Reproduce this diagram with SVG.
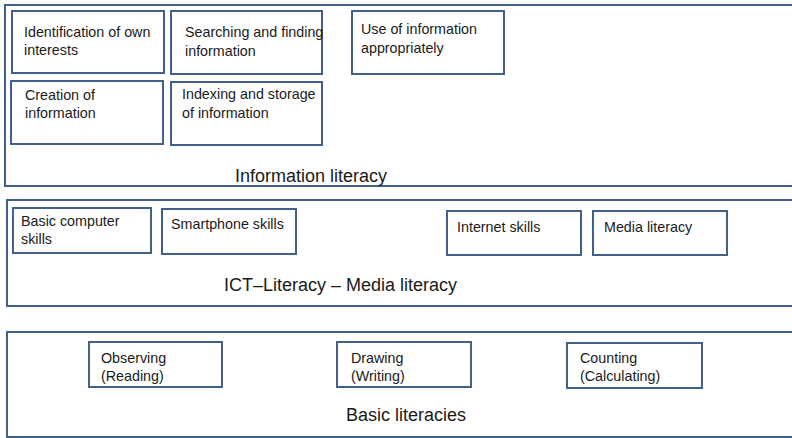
<svg xmlns="http://www.w3.org/2000/svg" width="792" height="438" viewBox="0 0 792 438">
  <style>
    .frame { fill: #ffffff; stroke: #41618a; stroke-width: 2; }
    .box { fill: #ffffff; stroke: #41618a; stroke-width: 2; }
    .label { font-family: "Liberation Sans", Arial, sans-serif; font-size: 14.3px; fill: #1a1a1a; }
    .title { font-family: "Liberation Sans", Arial, sans-serif; font-size: 18px; fill: #1a1a1a; }
  </style>
  <rect width="792" height="438" fill="#ffffff"/>

  <!-- Layer: Information literacy -->
  <g id="layer-information">
    <rect class="frame" x="5" y="5" width="800" height="181"/>
    <text class="title" x="235" y="182">Information literacy</text>
  </g>
  <g id="node-identification">
    <rect class="box" x="12" y="11" width="152" height="62"/>
    <text class="label" x="24" y="37">Identification of own</text>
    <text class="label" x="24" y="55">interests</text>
  </g>
  <g id="node-searching">
    <rect class="box" x="171" y="11" width="151" height="63"/>
    <text class="label" x="185" y="37">Searching and finding</text>
    <text class="label" x="185" y="56">information</text>
  </g>
  <g id="node-use">
    <rect class="box" x="352" y="11" width="152" height="63"/>
    <text class="label" x="361" y="34">Use of information</text>
    <text class="label" x="361" y="53">appropriately</text>
  </g>
  <g id="node-creation">
    <rect class="box" x="11" y="81" width="152" height="63"/>
    <text class="label" x="25" y="100">Creation of</text>
    <text class="label" x="25" y="118">information</text>
  </g>
  <g id="node-indexing">
    <rect class="box" x="171" y="82" width="151" height="63"/>
    <text class="label" x="182" y="99">Indexing and storage</text>
    <text class="label" x="182" y="118">of information</text>
  </g>

  <!-- Layer: ICT literacy -->
  <g id="layer-ict">
    <rect class="frame" x="7" y="200" width="800" height="106"/>
    <text class="title" x="224" y="291">ICT–Literacy – Media literacy</text>
  </g>
  <g id="node-computer">
    <rect class="box" x="13" y="208" width="138" height="45"/>
    <text class="label" x="21" y="226">Basic computer</text>
    <text class="label" x="21" y="244">skills</text>
  </g>
  <g id="node-smartphone">
    <rect class="box" x="162" y="209" width="134" height="45"/>
    <text class="label" x="171" y="229">Smartphone skills</text>
  </g>
  <g id="node-internet">
    <rect class="box" x="447" y="211" width="134" height="44"/>
    <text class="label" x="457" y="232">Internet skills</text>
  </g>
  <g id="node-media">
    <rect class="box" x="593" y="211" width="134" height="44"/>
    <text class="label" x="604" y="232">Media literacy</text>
  </g>

  <!-- Layer: Basic literacies -->
  <g id="layer-basic">
    <rect class="frame" x="7" y="332" width="800" height="105"/>
    <text class="title" x="346" y="421">Basic literacies</text>
  </g>
  <g id="node-observing">
    <rect class="box" x="89" y="342" width="133" height="45"/>
    <text class="label" x="101" y="363">Observing</text>
    <text class="label" x="101" y="381">(Reading)</text>
  </g>
  <g id="node-drawing">
    <rect class="box" x="337" y="342" width="134" height="45"/>
    <text class="label" x="351" y="363">Drawing</text>
    <text class="label" x="351" y="381">(Writing)</text>
  </g>
  <g id="node-counting">
    <rect class="box" x="567" y="343" width="135" height="45"/>
    <text class="label" x="580" y="363">Counting</text>
    <text class="label" x="580" y="381">(Calculating)</text>
  </g>

  <!-- connectors: none in this layered chart -->
  <g id="connectors"/>
</svg>
